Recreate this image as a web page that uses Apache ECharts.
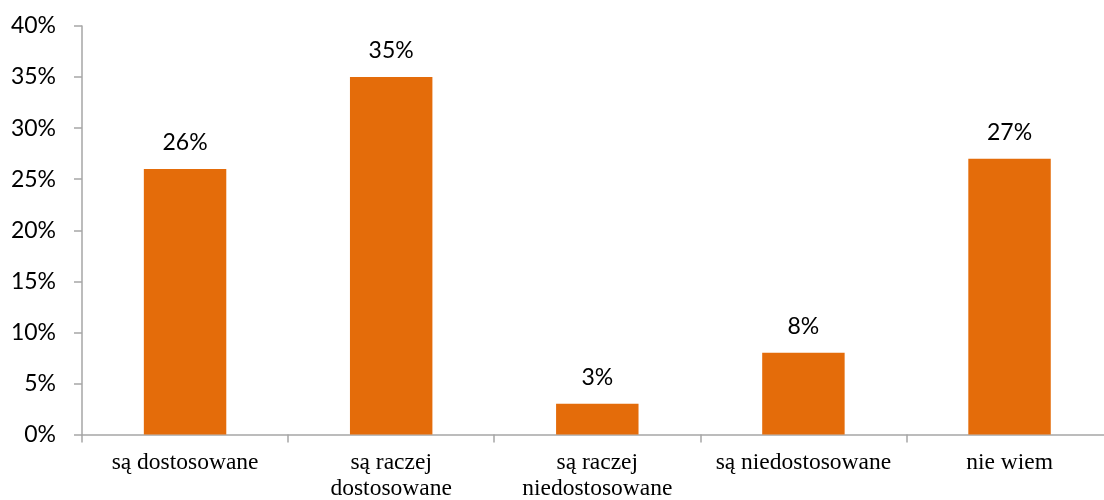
<!DOCTYPE html>
<html>
<head>
<meta charset="utf-8">
<script src="https://cdn.jsdelivr.net/npm/echarts@6/dist/echarts.min.js"></script>
<style>
  html, body { margin: 0; padding: 0; background: #fff; overflow: hidden; }
  #chart { width: 1104px; height: 500px; }
</style>
</head>
<body>
<div id="chart"></div>
<script>
var categories = ['są dostosowane', 'są raczej\ndostosowane', 'są raczej\nniedostosowane', 'są niedostosowane', 'nie wiem'];
var values = [26, 35, 3, 8, 27];
var yTicks = [0, 5, 10, 15, 20, 25, 30, 35, 40];

var myChart = echarts.init(document.getElementById('chart'));
var option = {
    animation: false,
    grid: {
        left: 82,
        right: -8.6,
        top: 26,
        bottom: 65.5,
        outerBoundsMode: 'none'
    },
    xAxis: {
        type: 'category',
        data: categories,
        axisLine: { lineStyle: { color: '#a6a6a6', width: 1.5 } },
        axisTick: { show: true, interval: 0, length: 8, lineStyle: { color: '#a6a6a6', width: 1.5 } },
        axisLabel: {
            interval: 0,
            color: '#000',
            fontFamily: '"Liberation Serif", serif',
            fontSize: 23.5,
            lineHeight: 26,
            margin: 15
        }
    },
    yAxis: {
        type: 'value',
        min: yTicks[0],
        max: yTicks[yTicks.length - 1],
        interval: 5,
        splitLine: { show: false },
        axisLine: { show: true, lineStyle: { color: '#a6a6a6', width: 1.5 } },
        axisTick: { show: true, length: 8, lineStyle: { color: '#a6a6a6', width: 1.5 } },
        axisLabel: {
            color: '#000',
            fontFamily: 'Lato, sans-serif',
            fontSize: 23,
            margin: 26,
            formatter: '{value}%'
        }
    },
    series: [{
        type: 'bar',
        data: values,
        barWidth: '40%',
        itemStyle: { color: '#e46c0a' },
        label: {
            show: true,
            position: 'top',
            distance: 15,
            color: '#000',
            fontFamily: 'Lato, sans-serif',
            fontSize: 23,
            formatter: '{c}%'
        }
    }]
};
myChart.setOption(option);
</script>
</body>
</html>
